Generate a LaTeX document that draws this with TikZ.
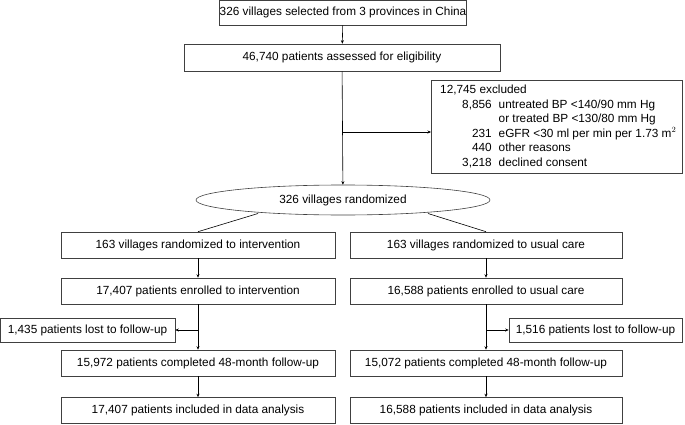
\documentclass[tikz,border=0pt]{standalone}
\usepackage{fontspec}
\setmainfont{Liberation Sans}
\usetikzlibrary{shapes.geometric,arrows.meta}
\begin{document}
\begin{tikzpicture}[x=1pt,y=-1pt,font=\fontsize{11.8}{14}\selectfont,
  bx/.style={draw=black!75,line width=0.6pt,inner sep=0pt,anchor=center},
  ar/.style={-{Stealth[length=3.5pt,width=3pt]},line width=0.6pt},
  ln/.style={line width=0.6pt}]
\useasboundingbox (0,0) rectangle (685,425);
\node[bx,minimum width=232,minimum height=25] (top) at (343,12.5) {326 villages selected from 3 provinces in China};
\node[bx,minimum width=316,minimum height=27] (elig) at (342,57.5) {46,740 patients assessed for eligibility};
\node[bx,minimum width=251,minimum height=93,anchor=north west] (exc) at (431,80) {};
\node[anchor=north west,inner sep=0pt,font=\fontsize{11.8}{14.6}\selectfont] (exct) at (440,83) {\begin{tabular}{@{}r@{\hspace{7pt}}l@{}}
\multicolumn{2}{@{}l}{12,745 excluded}\\
\hspace{22pt}8,856 & untreated BP <140/90 mm Hg\\
 & or treated BP <130/80 mm Hg\\
231 & eGFR <30 ml per min per 1.73 m$^2$\\
440 & other reasons\\
3,218 & declined consent\end{tabular}};
\node[bx,ellipse,minimum width=294,minimum height=30] (rand) at (343,200) {326 villages randomized};
\node[bx,minimum width=274,minimum height=26] (l1) at (198,245) {163 villages randomized to intervention};
\node[bx,minimum width=272,minimum height=26] (r1) at (486,245) {163 villages randomized to usual care};
\node[bx,minimum width=274,minimum height=26] (l2) at (198,291) {17,407 patients enrolled to intervention};
\node[bx,minimum width=272,minimum height=26] (r2) at (486,291) {16,588 patients enrolled to usual care};
\node[bx,minimum width=175,minimum height=24] (ll) at (87.5,330) {1,435 patients lost to follow-up};
\node[bx,minimum width=173,minimum height=24] (rl) at (595.5,330) {1,516 patients lost to follow-up};
\node[bx,minimum width=274,minimum height=26] (l3) at (198,363) {15,972 patients completed 48-month follow-up};
\node[bx,minimum width=272,minimum height=26] (r3) at (486,363) {15,072 patients completed 48-month follow-up};
\node[bx,minimum width=274,minimum height=26] (l4) at (198,410.5) {17,407 patients included in data analysis};
\node[bx,minimum width=272,minimum height=26] (r4) at (486,410.5) {16,588 patients included in data analysis};
\coordinate (jx) at (343,132);
\coordinate (jl) at (198,330);
\coordinate (jr) at (486,330);
\draw[ar] (top) -- (elig);
\draw[ar] (elig) -- (rand);
\draw[ar] (jx) -- (exc.west|-jx);
\draw[ln] (258,213.5) -- (l1.north);
\draw[ln] (428,213.5) -- (r1.north);
\draw[ar] (l1) -- (l2);
\draw[ar] (r1) -- (r2);
\draw[ar] (l2) -- (l3);
\draw[ar] (r2) -- (r3);
\draw[ar] (jl) -- (ll.east);
\draw[ar] (jr) -- (rl.west);
\draw[ar] (l3) -- (l4);
\draw[ar] (r3) -- (r4);
\end{tikzpicture}
\end{document}
